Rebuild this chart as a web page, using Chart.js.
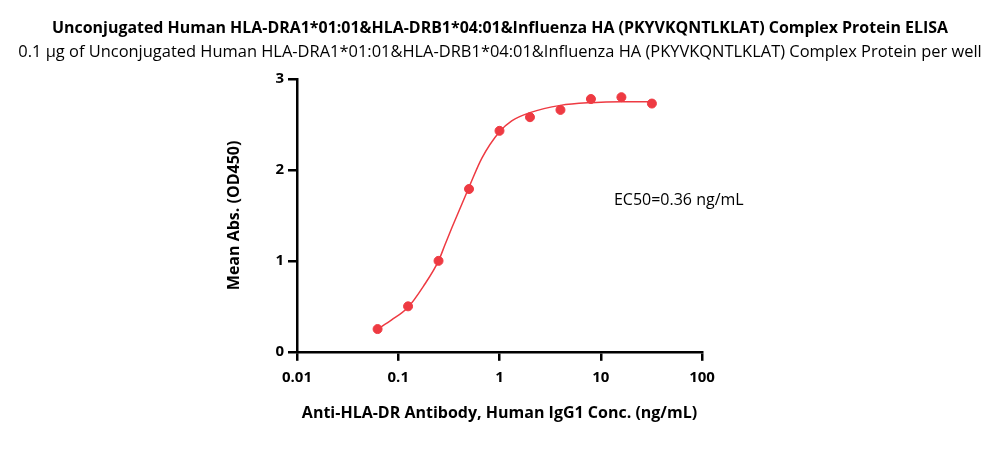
<!DOCTYPE html>
<html>
<head>
<meta charset="utf-8">
<script src="https://cdn.jsdelivr.net/npm/chart.js@4.4.1/dist/chart.umd.min.js"></script>
<style>
    html, body { margin: 0; padding: 0; background: #fff; }
    #wrap { width: 1000px; height: 464px; }
</style>
</head>
<body>
<div id="wrap"><canvas id="canvas-1"></canvas></div>
<script>
// measured points (ng/mL, OD450)
var concentrations = [0.0625, 0.125, 0.25, 0.5, 1, 2, 4, 8, 16, 32];
var meanAbs = [0.25, 0.50, 1.00, 1.79, 2.43, 2.58, 2.66, 2.78, 2.80, 2.73];

// fitted curve
var curveConc = [0.0625, 0.086, 0.125, 0.177, 0.25, 0.29, 0.34, 0.5, 0.67, 1, 1.32, 2, 4, 8, 16, 32];
var curveAbs = [0.25, 0.35, 0.49, 0.72, 1.00, 1.18, 1.37, 1.81, 2.13, 2.42, 2.54, 2.63, 2.71, 2.74, 2.75, 2.75];

var xTicks = [0.01, 0.1, 1, 10, 100];
var xTickLabels = ['0.01', '0.1', '1', '10', '100'];
var yTicks = [0, 1, 2, 3];

var titleText = 'Unconjugated Human HLA-DRA1*01:01&HLA-DRB1*04:01&Influenza HA (PKYVKQNTLKLAT) Complex Protein ELISA';
var subtitleText = '0.1 \u00b5g of Unconjugated Human HLA-DRA1*01:01&HLA-DRB1*04:01&Influenza HA (PKYVKQNTLKLAT) Complex Protein per well';
var ec50Text = 'EC50=0.36 ng/mL';

var red = '#ee3a42';
var fontFamily = '"Open Sans", sans-serif';

Chart.defaults.font.family = fontFamily;
Chart.defaults.color = '#000';

// font size that makes a line of text fill a given width
function fitFont(ctx, text, weight, width) {
    ctx.font = weight + ' 20px ' + fontFamily;
    var size = 20 * width / ctx.measureText(text).width;
    return weight + ' ' + size.toFixed(2) + 'px ' + fontFamily;
}

var headings = {
    id: 'headings',
    afterDraw: function (chart) {
        var ctx = chart.ctx;
        var cx = chart.width / 2;
        ctx.save();
        ctx.fillStyle = '#000';
        ctx.textAlign = 'center';
        ctx.textBaseline = 'middle';
        ctx.font = fitFont(ctx, titleText, 'bold', 896);
        ctx.fillText(titleText, cx, 28);
        ctx.font = fitFont(ctx, subtitleText, 'normal', 964);
        ctx.fillText(subtitleText, cx, 52);

        var x = chart.scales.x.getPixelForValue(13.5);
        var y = chart.scales.y.getPixelForValue(1.67);
        ctx.textAlign = 'left';
        ctx.font = '16px ' + fontFamily;
        ctx.fillText(ec50Text, x, y);
        ctx.restore();
    }
};

var ctx = document.getElementById('canvas-1');
//noinspection JSUnusedLocalSymbols
var chart = new Chart(ctx, {
    type: 'scatter',
    data: {
        datasets: [
            {
                label: 'Curve',
                type: 'line',
                data: curveConc.map(function (c, i) { return {x: c, y: curveAbs[i]}; }),
                borderColor: red,
                borderWidth: 1.5,
                pointRadius: 0,
                fill: false,
                cubicInterpolationMode: 'monotone'
            },
            {
                label: 'Mean Abs.',
                data: concentrations.map(function (c, i) { return {x: c, y: meanAbs[i]}; }),
                backgroundColor: red,
                borderColor: red,
                pointRadius: 4.5,
                pointHoverRadius: 4.5
            }
        ]
    },
    plugins: [headings],
    options: {
        responsive: true,
        maintainAspectRatio: false,
        animation: false,
        layout: {
            padding: {left: 221, right: 298, top: 79, bottom: 37}
        },
        plugins: {
            legend: {display: false},
            tooltip: {enabled: false}
        },
        scales: {
            x: {
                type: 'logarithmic',
                min: 0.01,
                max: 100,
                afterBuildTicks: function (scale) {
                    scale.ticks = xTicks.map(function (v) { return {value: v}; });
                },
                ticks: {
                    font: {size: 15, weight: 'bold'},
                    padding: 8,
                    autoSkip: false,
                    maxRotation: 0,
                    callback: function (value) {
                        var i = xTicks.indexOf(value);
                        return i >= 0 ? xTickLabels[i] : '';
                    }
                },
                grid: {
                    drawOnChartArea: false,
                    drawTicks: true,
                    tickLength: 9,
                    color: '#000',
                    lineWidth: 2.5
                },
                border: {color: '#000', width: 2.5},
                title: {
                    display: true,
                    text: 'Anti-HLA-DR Antibody, Human IgG1 Conc. (ng/mL)',
                    font: {size: 16, weight: 'bold'},
                    padding: {top: 9}
                }
            },
            y: {
                min: 0,
                max: 3,
                afterBuildTicks: function (scale) {
                    scale.ticks = yTicks.map(function (v) { return {value: v}; });
                },
                afterFit: function (scale) {
                    scale.width = 76;
                },
                ticks: {
                    font: {size: 15, weight: 'bold'},
                    padding: 4
                },
                grid: {
                    drawOnChartArea: false,
                    drawTicks: true,
                    tickLength: 9,
                    color: '#000',
                    lineWidth: 2.5
                },
                border: {color: '#000', width: 2.5},
                title: {
                    display: true,
                    text: 'Mean Abs. (OD450)',
                    font: {size: 16, weight: 'bold'}
                }
            }
        }
    }
});
</script>
</body>
</html>
